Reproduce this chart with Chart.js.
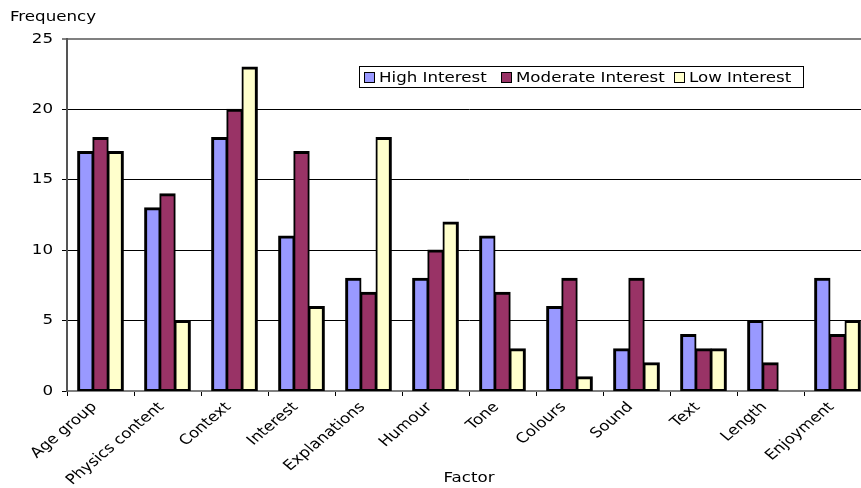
<!DOCTYPE html>
<html>
<head>
<meta charset="utf-8">
<script src="https://cdn.jsdelivr.net/npm/chart.js@4"></script>
<style>
  html, body { margin:0; padding:0; background:#fff; overflow:hidden; }
  #wrap { width:880px; height:488px; }
</style>
</head>
<body>
<div id="wrap"><canvas id="chart"></canvas></div>
<script>
const factors = ['Age group','Physics content','Context','Interest','Explanations','Humour','Tone','Colours','Sound','Text','Length','Enjoyment'];
const highInterest     = [17, 13, 18, 11,  8,  8, 11, 6, 3, 4, 5, 8];
const moderateInterest = [18, 14, 20, 17,  7, 10,  7, 8, 8, 3, 2, 4];
const lowInterest      = [17,  5, 23,  6, 18, 12,  3, 1, 2, 3, 0, 5];
const yTicks = [0, 5, 10, 15, 20, 25];

const FONT = '14px Verdana, "DejaVu Sans", sans-serif';
const SX = 1.19; // the original text is drawn wide

function wideText(c, txt, x, y, align, angle) {
    c.save();
    c.translate(x, y);
    c.scale(SX, 1);
    if (angle) c.rotate(angle);
    c.textAlign = align;
    c.fillText(txt, 0, 0);
    c.restore();
}

// texts and legend box drawn like the Excel original
const extras = {
    id:'extras',
    afterDraw(chart) {
        const c = chart.ctx, area = chart.chartArea;
        const xs = chart.scales.x, ys = chart.scales.y;
        c.save();
        c.fillStyle = '#000';
        c.font = FONT;
        c.textBaseline = 'middle';
        wideText(c, 'Frequency', 10, 17, 'left');
        wideText(c, 'Factor', (area.left + area.right) / 2, 478, 'center');

        yTicks.forEach(v => wideText(c, String(v), 53, ys.getPixelForValue(v), 'right'));
        factors.forEach((f, i) => wideText(c, f, xs.getPixelForValue(i) - 6, 405, 'right', -Math.PI / 4));

        // legend
        const x0 = 359, y0 = 66, w = 444, h = 21;
        c.fillStyle = '#fff';
        c.fillRect(x0, y0, w, h);
        c.strokeStyle = '#000';
        c.lineWidth = 1;
        c.strokeRect(x0 + 0.5, y0 + 0.5, w, h);
        const pos = [364, 501, 674];
        chart.data.datasets.forEach((ds, i) => {
            c.fillStyle = ds.backgroundColor;
            c.fillRect(pos[i], y0 + 6, 11, 11);
            c.strokeRect(pos[i] + 0.5, y0 + 6.5, 10, 10);
            c.fillStyle = '#000';
            wideText(c, ds.label, pos[i] + 15, y0 + 12, 'left');
        });
        c.restore();
    }
};

new Chart(document.getElementById('chart'), {
    type:'bar',
    data:{
        labels:factors,
        datasets:[
            { label:'High Interest', data:highInterest, backgroundColor:'#9999FF',
              borderWidth:{ left:3, right:2, top:3, bottom:2 } },
            { label:'Moderate Interest', data:moderateInterest, backgroundColor:'#993366',
              borderWidth:{ left:2, right:2, top:3, bottom:2 } },
            { label:'Low Interest', data:lowInterest, backgroundColor:'#FFFFCC',
              borderWidth:{ left:2, right:3, top:3, bottom:2 } }
        ]
    },
    options:{
        responsive:true,
        maintainAspectRatio:false,
        animation:false,
        datasets:{ bar:{ borderColor:'#000', borderSkipped:false, inflateAmount:0.6, categoryPercentage:0.68, barPercentage:1 } },
        layout:{ padding:{ top:39, right:9, left:0, bottom:0 } },
        plugins:{ legend:{ display:false }, tooltip:{ enabled:false } },
        scales:{
            x:{
                afterFit:s => { s.height = 97; },
                grid:{ offset:true, drawOnChartArea:false, color:'#000', tickLength:5 },
                border:{ color:'#808080', width:2 },
                ticks:{ display:false }
            },
            y:{
                min:0, max:25,
                afterFit:s => { s.width = 67; },
                afterBuildTicks:s => { s.ticks = yTicks.map(v => ({ value:v })); },
                grid:{ color:ctx => (ctx.tick && ctx.tick.value === 25) ? '#808080' : '#000', lineWidth:ctx => (ctx.tick && ctx.tick.value === 25) ? 2 : 1, tickLength:5 },
                border:{ color:'#555', width:2 },
                ticks:{ display:false }
            }
        }
    },
    plugins:[extras]
});
</script>
</body>
</html>
